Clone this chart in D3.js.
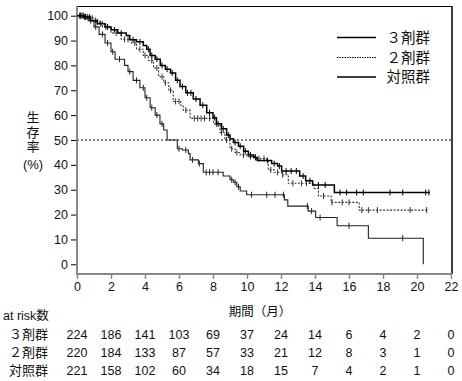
<!DOCTYPE html>
<html>
<head>
<meta charset="utf-8">
<script src="https://cdn.jsdelivr.net/npm/d3@7"></script>
<style>
  body { margin: 0; background: #fff; }
  text { font-family: "Liberation Sans", Arial, "Noto Sans CJK JP", sans-serif; fill: #111; }
  .jp { font-family: "Noto Sans CJK JP", sans-serif; }
</style>
</head>
<body>
<div id="viz"></div>
<script>
var width = 462;
var height = 381;

// KM curves: [month, survival %]
var group3 = [[0,100],[0.4,99.5],[0.8,98],[1.2,96.8],[1.65,95.5],[2.0,94.3],[2.4,93],[2.9,92],[3.1,90.3],
  [3.5,89.5],[3.9,88],[4.1,86.5],[4.3,84],[4.6,82.5],[4.9,80],[5.2,78.5],[5.5,77],[5.8,74],[6.06,71.5],
  [6.4,69],[6.84,66.5],[7.24,64],[7.63,61],[8.0,59],[8.2,56.5],[8.5,54.5],[8.8,52],[9.0,50.5],[9.2,49],
  [9.5,47.5],[9.8,45.5],[10.08,44],[10.4,43],[10.6,41.8],[11.45,40.5],[11.8,39.5],[12.04,37.5],
  [13.1,35.5],[13.45,33.6],[13.86,31.9],[15.14,28.9],[20.76,28.9]];
var group2 = [[0,100],[0.5,99],[1.0,97.5],[1.5,95.5],[2.0,93],[2.6,90.5],[3.2,89],[3.5,86.5],[3.9,84],
  [4.2,82],[4.5,79],[4.8,75.5],[5.1,73],[5.4,70],[5.66,65.5],[6.1,64],[6.25,62],[6.65,58.7],[8.02,56.5],
  [8.41,53],[8.7,50],[9.0,46.5],[9.3,45],[9.6,44],[10.0,43.3],[10.5,42.5],[11.16,41.3],[11.25,38],
  [11.6,37],[12.04,36],[12.43,32.6],[13.95,30.5],[14.2,27.5],[14.95,24.9],[16.6,21.8],[20.67,21.8]];
var control = [[0,100],[0.3,99.5],[0.66,98],[1.0,95.5],[1.3,92.5],[1.65,89],[2.0,85.5],[2.24,82.5],
  [2.8,80],[3.0,77.5],[3.3,74],[3.7,71],[4.0,67],[4.3,63],[4.6,60],[4.88,56.5],[5.1,54],[5.3,50],
  [5.9,46.5],[6.2,46],[6.55,44.5],[6.65,42],[7.14,40.5],[7.43,37],[8.6,35.5],[9.0,34],[9.2,33],
  [9.4,31.2],[9.6,29.5],[9.98,28],[12.2,25.9],[12.4,23.4],[13.6,21.4],[14.04,18.8],[15.3,15.5],
  [17.14,10.5],[20.37,0]];

// censored times
var cens3 = [0.2,0.35,0.5,0.6,0.75,1.1,1.4,1.8,2.2,2.6,3.3,3.7,4.2,4.4,4.7,5.0,5.3,5.6,5.9,6.2,6.5,6.7,
  7.0,7.4,7.8,8.1,8.3,8.6,8.9,9.3,9.6,9.9,10.2,10.5,11.2,11.6,11.9,12.3,12.6,12.9,13.3,13.7,14.2,14.6,
  15.47,15.86,16.45,16.84,18.41,19.16,20.51,20.7];
var cens2 = [0.25,0.4,0.7,0.9,1.2,1.7,2.3,2.8,3.0,3.4,3.7,4.0,4.4,4.7,5.0,5.2,5.5,5.8,6.0,6.4,6.9,7.1,
  7.3,7.5,7.8,8.2,8.5,8.8,9.1,9.4,9.8,10.2,10.7,11.0,11.4,11.8,12.1,12.7,13.2,13.5,14.5,15.0,15.6,16.0,
  16.75,17.14,17.67,19.6,20.57];
var censC = [0.15,0.45,0.8,1.1,1.5,1.8,2.1,2.5,3.1,3.5,3.9,4.1,4.4,4.7,5.0,6.0,6.4,6.8,7.2,7.6,7.8,
  8.0,8.3,9.1,9.3,9.5,10.27,11.16,11.65,12.14,13.55,13.8,14.3,16.0,19.16];

var legendLabels = ["３剤群", "２剤群", "対照群"];
var riskGroups = ["３剤群", "２剤群", "対照群"];
var riskTimes = [0,2,4,6,8,10,12,14,16,18,20,22];
var risk3 = [224,186,141,103,69,37,24,14,6,4,2,0];
var risk2 = [220,184,133,87,57,33,21,12,8,3,1,0];
var riskC = [221,158,102,60,34,18,15,7,4,2,1,0];

var svg = d3.select("#viz").append("svg")
    .attr("width", width)
    .attr("height", height);

var x = d3.scaleLinear().domain([0, 22]).range([77, 451]);
var y = d3.scaleLinear().domain([0, 100]).range([264.3, 15.7]);

var axisY = 274;

// frame top/right
svg.append("line").attr("x1", 77).attr("x2", 452).attr("y1", 6.5).attr("y2", 6.5)
    .attr("stroke", "#000").attr("stroke-width", 1.2);
svg.append("line").attr("x1", 452).attr("x2", 452).attr("y1", 6).attr("y2", axisY)
    .attr("stroke", "#000").attr("stroke-width", 1.5);

// 50% reference
svg.append("line").attr("x1", 77).attr("x2", 452).attr("y1", y(50)).attr("y2", y(50))
    .attr("stroke", "#000").attr("stroke-width", 1).attr("stroke-dasharray", "2,2");

// y axis
var yAxis = d3.axisLeft(y).tickValues(d3.range(0, 101, 10)).tickSize(6).tickPadding(3);
var gy = svg.append("g").attr("transform", "translate(77,0)").call(yAxis);
gy.select(".domain").remove();
gy.selectAll("line").attr("stroke", "#000");
gy.selectAll("text").attr("font-size", 12.5).style("font-family", "'Liberation Sans', Arial, sans-serif");
svg.append("line").attr("x1", 77).attr("x2", 77).attr("y1", 6).attr("y2", axisY + 1)
    .attr("stroke", "#888").attr("stroke-width", 2);

// x axis
var xAxis = d3.axisBottom(x).tickValues(d3.range(0, 23, 2)).tickSize(5).tickPadding(3);
var gx = svg.append("g").attr("transform", "translate(0," + axisY + ")").call(xAxis);
gx.select(".domain").remove();
gx.selectAll("line").attr("stroke", "#888").attr("stroke-width", 1.5);
gx.selectAll("text").attr("font-size", 12.5).style("font-family", "'Liberation Sans', Arial, sans-serif");
svg.append("line").attr("x1", 76).attr("x2", 452).attr("y1", axisY).attr("y2", axisY)
    .attr("stroke", "#888").attr("stroke-width", 2);

// curves
var line = d3.line().x(function(d) { return x(d[0]); }).y(function(d) { return y(d[1]); })
    .curve(d3.curveStepAfter);

function survAt(data, t) {
  var v = data[0][1];
  data.forEach(function(d) { if (d[0] <= t) v = d[1]; });
  return v;
}

function drawCurve(data, cens, color, w, dash) {
  svg.append("path").datum(data)
      .attr("d", line)
      .attr("fill", "none")
      .attr("stroke", color)
      .attr("stroke-width", w)
      .attr("stroke-dasharray", dash);
  svg.selectAll(null).data(cens).enter().append("line")
      .attr("x1", function(d) { return x(d); })
      .attr("x2", function(d) { return x(d); })
      .attr("y1", function(d) { return y(survAt(data, d)) - 3; })
      .attr("y2", function(d) { return y(survAt(data, d)) + 3; })
      .attr("stroke", color)
      .attr("stroke-width", 1);
}

drawCurve(control, censC, "#222", 1.1, null);
drawCurve(group2, cens2, "#333", 1.1, "2,1.5");
drawCurve(group3, cens3, "#000", 1.5, null);

// legend
var legY = [37.5, 57.5, 77];
var legDash = [null, "1.5,1", null];
var legW = [1.5, 1, 1.3];
legendLabels.forEach(function(lab, i) {
  svg.append("line").attr("x1", 337).attr("x2", 376).attr("y1", legY[i]).attr("y2", legY[i])
      .attr("stroke", "#000").attr("stroke-width", legW[i]).attr("stroke-dasharray", legDash[i]);
  svg.append("text").attr("class", "jp").attr("x", 430).attr("y", legY[i])
      .attr("dy", "0.36em").attr("text-anchor", "end").attr("font-size", 14.5).text(lab);
});

// y label, stacked vertically
svg.append("text").attr("class", "jp")
    .attr("x", 33).attr("y", 111)
    .attr("font-size", 13)
    .style("writing-mode", "vertical-rl")
    .style("text-orientation", "upright")
    .style("letter-spacing", "1.5px")
    .text("生存率");
svg.append("text").attr("x", 33).attr("y", 164).attr("dy", "0.36em")
    .attr("text-anchor", "middle").attr("font-size", 13).text("(%)");

// x label
svg.append("text").attr("class", "jp").attr("x", 260).attr("y", 311).attr("dy", "0.36em")
    .attr("text-anchor", "middle").attr("font-size", 12.5).text("期間（月）");

// at risk table
svg.append("text").attr("x", 3).attr("y", 315).attr("dy", "0.36em")
    .attr("font-size", 12.5).text("at risk").append("tspan").attr("class", "jp").text("数");

var riskRows = [risk3, risk2, riskC];
var rowY = [334, 352, 370];
riskGroups.forEach(function(g, i) {
  svg.append("text").attr("class", "jp").attr("x", 48).attr("y", rowY[i]).attr("dy", "0.36em")
      .attr("text-anchor", "end").attr("font-size", 13).text(g);
  svg.selectAll(null).data(riskRows[i]).enter().append("text")
      .attr("x", function(d, j) { return x(riskTimes[j]); })
      .attr("y", rowY[i]).attr("dy", "0.36em")
      .attr("text-anchor", "middle").attr("font-size", 12.5)
      .text(function(d) { return d; });
});
</script>
</body>
</html>
